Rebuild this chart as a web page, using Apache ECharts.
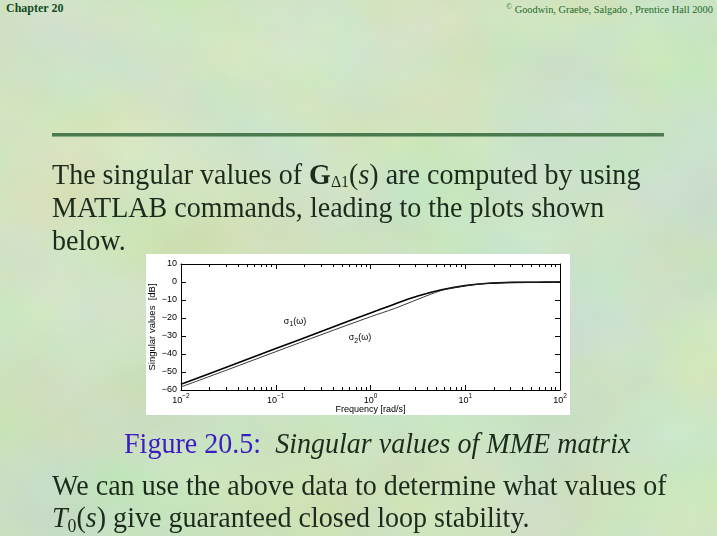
<!DOCTYPE html>
<html>
<head>
<meta charset="utf-8">
<script src="https://cdn.jsdelivr.net/npm/echarts@6/dist/echarts.min.js"></script>
<style>
  html, body { margin:0; padding:0; }
  body {
    width:717px; height:536px; overflow:hidden; position:relative;
    background:
      radial-gradient(ellipse 260px 180px at 18% 30%, rgba(214,224,170,0.55), rgba(214,224,170,0) 100%),
      radial-gradient(ellipse 300px 200px at 78% 42%, rgba(172,216,204,0.6), rgba(172,216,204,0) 100%),
      radial-gradient(ellipse 200px 120px at 30% 15%, rgba(180,218,200,0.5), rgba(180,218,200,0) 100%),
      radial-gradient(ellipse 240px 160px at 55% 8%, rgba(214,224,176,0.5), rgba(214,224,176,0) 100%),
      radial-gradient(ellipse 260px 160px at 12% 88%, rgba(164,206,160,0.5), rgba(164,206,160,0) 100%),
      radial-gradient(ellipse 260px 160px at 85% 90%, rgba(180,216,190,0.5), rgba(180,216,190,0) 100%),
      #bcd8ac;
    font-family: "Liberation Serif", "DejaVu Serif", serif;
    color:#1d2b1d;
  }
  #noise {
    position:absolute; left:0; top:0; width:717px; height:536px; opacity:0.5;
    background-image:url("data:image/svg+xml;utf8,<svg xmlns='http://www.w3.org/2000/svg' width='717' height='536'><filter id='f'><feTurbulence type='fractalNoise' baseFrequency='0.008 0.011' numOctaves='4' seed='7'/><feColorMatrix type='matrix' values='0.4 0 0 0 0.54  0 0.3 0 0 0.7  0 0 0.5 0 0.42  0 0 0 0 1'/></filter><rect width='717' height='536' filter='url(%23f)'/></svg>");
  }
  .t { position:absolute; white-space:nowrap; }
  .body { font-size:30px; line-height:30px; height:30px; left:52px; transform:scaleX(0.935); transform-origin:0 0; }
  sub { font-size:17px; vertical-align:-3px; line-height:0; }
  sub.low { font-size:19px; vertical-align:-5px; }
  #chart { position:absolute; left:146px; top:254px; width:424px; height:161px; background:#fff; }
  #rule { position:absolute; left:52px; top:133px; width:612px; height:3px; background:#4a7a4e; box-shadow:0 1px 0 #86ad86; }
</style>
</head>
<body>
<div id="noise"></div>
<div class="t" style="left:6px; top:1px; font-size:12px; font-weight:bold; color:#114d1e; font-family:'Liberation Serif',serif;">Chapter 20</div>
<div class="t" style="left:506px; top:2px; font-size:10.4px; color:#1e6a2a; font-family:'Liberation Serif',serif;"><span style="font-size:8px; vertical-align:4px;">©</span> Goodwin, Graebe, Salgado , Prentice Hall 2000</div>
<div id="rule"></div>
<div class="t body" style="top:159px;">The singular values of <b>G</b><sub>Δ1</sub>(<i>s</i>) are computed by using</div>
<div class="t body" style="top:192px;">MATLAB commands, leading to the plots shown</div>
<div class="t body" style="top:225px;">below.</div>
<div id="chart"></div>
<div class="t body" style="top:428px; left:124px;"><span style="color:#3a1cc2;">Figure 20.5:</span>&nbsp; <i>Singular values of MME matrix</i></div>
<div class="t body" style="top:470px;">We can use the above data to determine what values of</div>
<div class="t body" style="top:502px;"><i>T</i><sub class="low">0</sub>(<i>s</i>) give guaranteed closed loop stability.</div>

<script>
// ---- data ----
const freq   = [0.01, 0.0316, 0.1, 0.316, 1, 1.78, 3.16, 5.62, 10, 17.8, 31.6, 56.2, 100];
const sigma1 = [-56.8, -46.9, -37.0, -27.1, -17.2, -12.3, -7.8, -4.3, -2.0, -0.7, -0.2, -0.1, 0];
const sigma2 = [-58.3, -48.6, -38.7, -28.9, -19.3, -14.8, -9.6, -4.7, -2.1, -0.7, -0.2, -0.1, 0];
const decadeExponents = [-2, -1, 0, 1, 2];
const yTicks = [10, 0, -10, -20, -30, -40, -50, -60];
const sigma1LabelAt = [0.16, -21.7];
const sigma2LabelAt = [0.774, -31.1];

const lg = Math.log10;
const minorTicks = [];
for (let e = -2; e < 2; e++) for (let k = 2; k <= 9; k++) minorTicks.push(lg(k * Math.pow(10, e)));

const FONT = '"Liberation Sans", Arial, sans-serif';
const s1 = freq.map((f, i) => [lg(f), sigma1[i]]);
const s2 = freq.map((f, i) => [lg(f), sigma2[i]]);

const chart = echarts.init(document.getElementById('chart'), null, {renderer: 'canvas'});
const lineOn = {show: true, onZero: false, lineStyle: {color: '#000', width: 1}};
const lineOff = {show: false, onZero: false};
const majorTick = {show: true, inside: true, length: 5, lineStyle: {color: '#000', width: 1}};
const minorTick = {show: true, inside: true, length: 3, customValues: minorTicks, lineStyle: {color: '#000', width: 1}};
const sigmaRich = {
  a: {fontSize: 9, fontFamily: FONT, color: '#000'},
  b: {fontSize: 7, fontFamily: FONT, color: '#000', padding: [6, 0, 0, 0]}
};
chart.setOption({
  animation: false,
  grid: {left: 35, right: 10, top: 10, bottom: 25, outerBoundsMode: 'none', containLabel: false},
  xAxis: [
    {
      type: 'value', min: -2, max: 2, interval: 1, position: 'bottom',
      axisLine: lineOn, axisTick: majorTick, splitLine: {show: false},
      axisLabel: {
        margin: 2,
        formatter: v => '{b|10}{s|' + (v < 0 ? '\u2212' + (-v) : v) + '}',
        rich: {
          b: {fontSize: 9, fontFamily: FONT, color: '#000', padding: [4, 0, 0, 0]},
          s: {fontSize: 6.5, fontFamily: FONT, color: '#000', padding: [0, 0, 4, 0]}
        }
      },
      name: 'Frequency [rad/s]', nameLocation: 'middle', nameGap: 15, nameMoveOverlap: false,
      nameTextStyle: {fontSize: 9, fontFamily: FONT, color: '#000'}
    },
    {
      type: 'value', min: -2, max: 2, position: 'bottom',
      axisLine: lineOff, axisTick: minorTick, axisLabel: {show: false}, splitLine: {show: false}
    },
    {
      type: 'value', min: -2, max: 2, interval: 1, position: 'top',
      axisLine: lineOn, axisTick: majorTick, axisLabel: {show: false}, splitLine: {show: false}
    },
    {
      type: 'value', min: -2, max: 2, position: 'top',
      axisLine: lineOff, axisTick: minorTick, axisLabel: {show: false}, splitLine: {show: false}
    }
  ],
  yAxis: [
    {
      type: 'value', min: -60, max: 10, interval: 10, position: 'left',
      axisLine: lineOn, axisTick: majorTick, splitLine: {show: false},
      axisLabel: {margin: 4, fontSize: 9, fontFamily: FONT, color: '#000',
        formatter: v => (v < 0 ? '\u2212' + (-v) : String(v))},
      name: 'Singular values  [dB]', nameLocation: 'middle', nameGap: 24, nameRotate: 90, nameMoveOverlap: false,
      nameTextStyle: {fontSize: 9.5, fontFamily: FONT, color: '#000'}
    },
    {
      type: 'value', min: -60, max: 10, interval: 10, position: 'right',
      axisLine: lineOn, axisTick: majorTick, axisLabel: {show: false}, splitLine: {show: false}
    }
  ],
  series: [
    {
      type: 'line', name: 'sigma1', data: s1, smooth: 0.3, showSymbol: false, symbol: 'none',
      lineStyle: {color: '#000', width: 1.6},
      markPoint: {
        symbol: 'circle', symbolSize: 0, silent: true,
        data: [{coord: [lg(sigma1LabelAt[0]), sigma1LabelAt[1]]}],
        label: {show: true, position: 'inside', formatter: '{a|σ}{b|1}{a|(ω)}', rich: sigmaRich}
      }
    },
    {
      type: 'line', name: 'sigma2', data: s2, smooth: 0.3, showSymbol: false, symbol: 'none',
      lineStyle: {color: '#222', width: 0.9},
      markPoint: {
        symbol: 'circle', symbolSize: 0, silent: true,
        data: [{coord: [lg(sigma2LabelAt[0]), sigma2LabelAt[1]]}],
        label: {show: true, position: 'inside', formatter: '{a|σ}{b|2}{a|(ω)}', rich: sigmaRich}
      }
    }
  ]
});
</script>
</body>
</html>
